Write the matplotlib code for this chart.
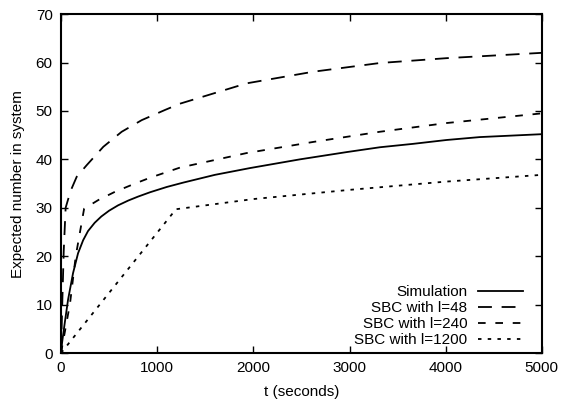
import numpy as np
import matplotlib.pyplot as plt

plt.rcParams['font.family'] = ['Liberation Sans', 'DejaVu Sans']
plt.rcParams['lines.scale_dashes'] = False

# values
sim_t = [0, 10, 38, 73, 125, 177, 230, 281, 350, 419, 500, 593, 700, 800, 925, 1100, 1271, 1600,
         1965, 2484, 2970, 3316, 3660, 4009, 4355, 5000]
sim_y = [0, 2.0, 6.1, 11.0, 16.5, 20.6, 23.3, 25.2, 26.9, 28.2, 29.4, 30.5, 31.5, 32.3, 33.2, 34.3,
         35.2, 36.8, 38.2, 40.0, 41.5, 42.5, 43.2, 44.0, 44.6, 45.2]

l48_t = [0, 14, 28, 48, 100, 163, 267, 440, 631, 839, 1081, 1237, 1930, 2623, 3316, 4009, 5000]
l48_y = [0, 11, 21, 30, 33.5, 36.4, 38.8, 42.6, 45.7, 48.1, 50.2, 51.5, 55.7, 58.1, 59.9, 60.9, 62.0]

l240_t = [0, 94, 153, 240, 388, 561, 769, 925, 1237, 1930, 2623, 3316, 4009, 5000]
l240_y = [0, 10.3, 20, 29.8, 31.6, 33.3, 35.0, 36.2, 38.3, 41.3, 43.6, 45.7, 47.5, 49.5]

l1200_t = [0, 1195, 2000, 3000, 4000, 5000]
l1200_y = [0, 29.7, 31.8, 33.7, 35.4, 36.8]

fig = plt.figure(figsize=(5.65, 4.03), dpi=100)
ax = fig.add_axes([0.108, 0.124, 0.851, 0.841])

ax.plot(sim_t, sim_y, color='black', lw=1.3, label='Simulation')
ax.plot(l48_t, l48_y, color='black', lw=1.3, dashes=(10, 7), label='SBC with l=48')
ax.plot(l240_t, l240_y, color='black', lw=1.3, dashes=(5.5, 7), label='SBC with l=240')
ax.plot(l1200_t, l1200_y, color='black', lw=1.3, dashes=(2.5, 4.5), label='SBC with l=1200')

ax.set_xlim(0, 5000)
ax.set_ylim(0, 70)
ax.set_xticks(np.arange(0, 5001, 1000))
ax.set_yticks(np.arange(0, 71, 10))
ax.tick_params(direction='in', top=True, right=True, length=5, width=1,
               labelsize=11, pad=6)
for s in ax.spines.values():
    s.set_linewidth(1.5)

ax.set_xlabel('t (seconds)', fontsize=11, labelpad=7)
ax.set_ylabel('Expected number in system', fontsize=11, labelpad=8)

ax.legend(loc='lower right', bbox_to_anchor=(0.960, 0.018), frameon=False,
          markerfirst=False, fontsize=11, handlelength=2.9, handletextpad=0.72,
          labelspacing=0.12, borderpad=0, borderaxespad=0)

fig.savefig('out.png', dpi=100)
